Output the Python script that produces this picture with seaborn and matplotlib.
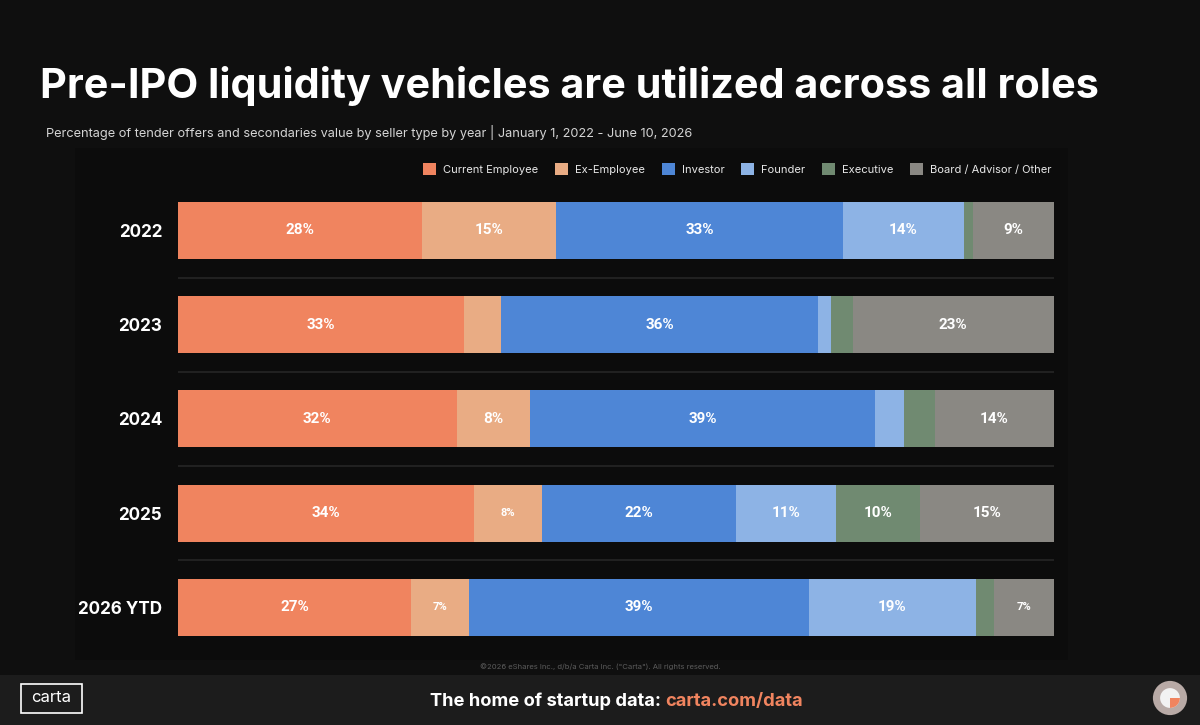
import matplotlib
matplotlib.use("Agg")
import matplotlib.pyplot as plt
from matplotlib.patches import Rectangle, Patch, Circle, Wedge
import seaborn as sns
import pandas as pd
import numpy as np

# ---------------- data ----------------
years = ["2022", "2023", "2024", "2025", "2026 YTD"]
categories = ["Current Employee", "Ex-Employee", "Investor", "Founder",
              "Executive", "Board / Advisor / Other"]
current_employee = [27.8, 32.7, 31.8, 33.8, 26.6]
ex_employee      = [15.4, 4.2, 8.4, 7.7, 6.6]
investor         = [32.7, 36.2, 39.4, 22.2, 38.8]
founder          = [13.8, 1.4, 3.3, 11.4, 19.1]
executive        = [1.1, 2.5, 3.5, 9.6, 2.0]
board_other      = [9.2, 23.0, 13.6, 15.3, 6.9]

colors = ["#F0845F", "#E9AC84", "#4E86D6", "#8DB3E5", "#708A71", "#8A8883"]

title = "Pre-IPO liquidity vehicles are utilized across all roles"
subtitle = ("Percentage of tender offers and secondaries value by seller type by year | "
            "January 1, 2022 - June 10, 2026")

series = [current_employee, ex_employee, investor, founder, executive, board_other]
df = pd.DataFrame({c: s for c, s in zip(categories, series)}, index=years)
cum = df.cumsum(axis=1)

# ---------------- figure ----------------
BG = "#0f0f0f"
W, H = 1200, 725
fig = plt.figure(figsize=(12, 7.25), dpi=100, facecolor=BG)

def fx(px):
    return px / W

def fy(py):
    return 1 - py / H

# subtle panel
fig.patches.append(Rectangle((fx(75), fy(660)), fx(1068) - fx(75), fy(148) - fy(660),
                             transform=fig.transFigure, facecolor="#0c0c0c",
                             edgecolor="none", zorder=-2))
# footer band
fig.patches.append(Rectangle((0, 0), 1, fy(675), transform=fig.transFigure,
                             facecolor="#1c1c1c", edgecolor="none", zorder=-2))

step = 94.2
top_c = 230.5 - step / 2
ax = fig.add_axes([fx(178), fy(top_c + 5 * step), fx(1054) - fx(178), 5 * step / H])
ax.set_facecolor("none")

# stacked bars: draw cumulative totals from last to first
for i in range(len(categories) - 1, -1, -1):
    d = pd.DataFrame({"year": years, "value": cum[categories[i]].values})
    sns.barplot(data=d, y="year", x="value", order=years, orient="h",
                color=colors[i], width=0.605, linewidth=0, saturation=1,
                ax=ax, zorder=2)

ax.set_xlim(0, 100)
ax.set_ylim(4.5, -0.5)
ax.set_xlabel("")
ax.set_ylabel("")
ax.set_xticks([])
for s in ax.spines.values():
    s.set_visible(False)
ax.tick_params(axis="y", length=0, pad=11.5)
ax.set_yticks(range(len(years)))
ax.set_yticklabels(years, fontsize=12.3, fontweight="bold", color="white",
                   family="Inter")

# separators
for yy in [0.5, 1.5, 2.5, 3.5]:
    ax.axhline(yy, color="#262626", lw=1.2, zorder=1)

# segment labels
for r, yr in enumerate(years):
    left = 0
    for i, c in enumerate(categories):
        v = df.loc[yr, c]
        if v >= 5:
            fs = 11 if v >= 8 else 8
            ax.text(left + v / 2, r, f"{round(v):.0f}%", ha="center", va="center",
                    color="white", fontsize=fs, fontweight="bold", family="Roboto",
                    zorder=5)
        left += v

# legend
handles = [Patch(facecolor=c, edgecolor="none", label=l) for c, l in zip(colors, categories)]
leg = fig.legend(handles=handles, loc="center right", ncol=6,
                 bbox_to_anchor=(fx(1062), fy(169)), frameon=False,
                 handlelength=1.18, handleheight=1.18, handletextpad=0.63,
                 columnspacing=1.5, prop={"family": "Inter", "size": 8.0})
for t in leg.get_texts():
    t.set_color("#e8e8e8")

# title / subtitle
fig.text(fx(40), fy(86), title, fontsize=29.8, fontweight="bold", color="white",
         family="Inter", va="center", ha="left")
fig.text(fx(46), fy(132), subtitle, fontsize=9.2, color="#d4d4d4",
         family="Inter", va="center", ha="left")

# copyright
fig.text(0.5, fy(667), "\u00a92026 eShares Inc., d/b/a Carta Inc. (\"Carta\"). All rights reserved.",
         fontsize=5.5, color="#5c5c5c", ha="center", va="center", family="Inter")

# footer text
t1 = fig.text(fx(430), fy(701), "The home of startup data: ", fontsize=13.2,
              fontweight="bold", color="white", family="Inter", ha="left", va="center")
fig.canvas.draw()
bb = t1.get_window_extent()
fig.text(bb.x1 / W, fy(701), "carta.com/data", fontsize=13.2, fontweight="bold",
         color="#F0845F", family="Inter", ha="left", va="center")

# carta logo box
fig.patches.append(Rectangle((fx(21), fy(713)), fx(82) - fx(21), fy(684) - fy(713),
                             transform=fig.transFigure, facecolor="none",
                             edgecolor="white", lw=1.2, zorder=3))
fig.text(fx(51.5), fy(698), "carta", fontsize=12, color="white", family="Inter",
         ha="center", va="center")

# right circle logo
ax_logo = fig.add_axes([fx(1152), fy(716), fx(36), 36 / H])
ax_logo.set_xlim(-1, 1)
ax_logo.set_ylim(-1, 1)
ax_logo.set_aspect("equal")
ax_logo.axis("off")
ax_logo.add_patch(Circle((0, 0), 0.95, facecolor="#b8aaa6", edgecolor="none"))
ax_logo.add_patch(Circle((0, 0), 0.55, facecolor="#f2f2f2", edgecolor="none"))
ax_logo.add_patch(Wedge((0, 0), 0.55, -90, 0, facecolor="#F0845F", edgecolor="none"))

fig.savefig("out.png", dpi=100, facecolor=BG)
